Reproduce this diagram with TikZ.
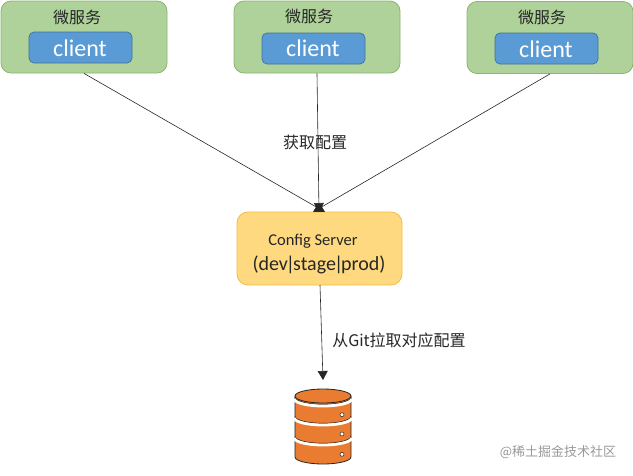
\documentclass[tikz,border=0pt]{standalone}
\usepackage{fontspec}
\setmainfont{Carlito}
\newfontfamily\cjk{Noto Sans CJK SC}
\usetikzlibrary{arrows.meta}
\definecolor{gborder}{HTML}{8DB56E}
\definecolor{gfill}{HTML}{AED29A}
\definecolor{bfill}{HTML}{5B9BD5}
\definecolor{bborder}{HTML}{41719C}
\definecolor{ofill}{HTML}{FFD97F}
\definecolor{oborder}{HTML}{F2BE3C}
\definecolor{dbfill}{HTML}{E97C30}
\tikzset{
  x=1pt,y=-1pt,
  svc/.style={draw=gborder,fill=gfill,rounded corners=10pt,line width=.8pt,minimum width=166pt,minimum height=72pt,inner sep=0pt},
  cli/.style={draw=bborder,fill=bfill,rounded corners=5pt,line width=.7pt,minimum width=103pt,minimum height=31pt,inner sep=0pt},
  clitxt/.style={inner sep=0pt,text=white,font=\fontsize{24}{26}\selectfont},
  srv/.style={draw=oborder,fill=ofill,rounded corners=11pt,line width=.8pt,minimum width=165pt,minimum height=73pt,inner sep=0pt},
  lab/.style={inner sep=0pt,text=black!85,font=\cjk\fontsize{16}{18}\selectfont},
  conn/.style={draw=black!85,line width=.6pt,-{Triangle[length=9pt,width=10pt]}},
  dbbody/.style={draw=black!85,line width=.8pt,fill=dbfill},
  hole/.style={draw=black!85,fill=white,line width=.5pt}
}
\newcommand{\dbband}[1]{%
  \draw[black!85,line width=.7pt] (295,#1-1.7) arc[start angle=180,end angle=0,x radius=28,y radius=7];
  \draw[white,line width=2.8pt] (294.4,#1) arc[start angle=180,end angle=0,x radius=28.6,y radius=7];
}
\begin{document}
\begin{tikzpicture}
\useasboundingbox (0,0) rectangle (633,475);
\node[svc] (s1) at (84,37) {};
\node[svc] (s2) at (317,37) {};
\node[svc] (s3) at (550,37.5) {};
\node[cli] (c1) at (80.5,47.5) {};
\node[cli] (c2) at (313.5,48.5) {};
\node[cli] (c3) at (546.5,48.5) {};
\node[clitxt] (ct1) at (80,48.5) {client};
\node[clitxt] (ct2) at (313,48.5) {client};
\node[clitxt] (ct3) at (546,49) {client};
\node[lab] (t1) at (77,17) {微服务};
\node[lab] (t2) at (309,16) {微服务};
\node[lab] (t3) at (542,17) {微服务};
\node[srv] (srv) at (319.5,248.5) {};
\node[inner sep=0pt,text=black!85,font=\fontsize{16.5}{18}\selectfont] (srv1) at (313,241) {Config Server};
\node[inner sep=0pt,text=black!85,font=\fontsize{20}{22}\selectfont] (srv2) at (319,265) {(dev\kern-2pt|\kern-2pt stage\kern-2pt|\kern-2pt prod)};
\coordinate (in1) at (325,212);
\coordinate (in2) at (319,212);
\coordinate (in3) at (313,212);
\draw[conn] (s1.south) -- (in1);
\draw[conn] (s2.south) -- (in2);
\draw[conn] (s3.south) -- (in3);
\node[lab] (l1) at (315,142) {获取配置};
\coordinate (dbtop) at (323,380);
\coordinate (out) at (320,285);
\draw[conn] (out) -- (dbtop);
\node[lab] (l2) at (399,340) {从Git拉取对应配置};
% database
\draw[dbbody] (295,396) -- (295,457) arc[start angle=180,end angle=0,x radius=28,y radius=7] -- (351,396) -- cycle;
\dbband{399}
\dbband{418}
\dbband{438}
\draw[dbbody] (323,396) ellipse[x radius=28,y radius=7];
\draw[hole] (342,414.7) circle[radius=2];
\draw[hole] (342,434) circle[radius=2];
\draw[hole] (342,454.3) circle[radius=2];
\node[inner sep=0pt,text=black!40,font=\cjk\fontsize{13}{15}\selectfont] (wm) at (558,452) {@稀土掘金技术社区};
\end{tikzpicture}
\end{document}
